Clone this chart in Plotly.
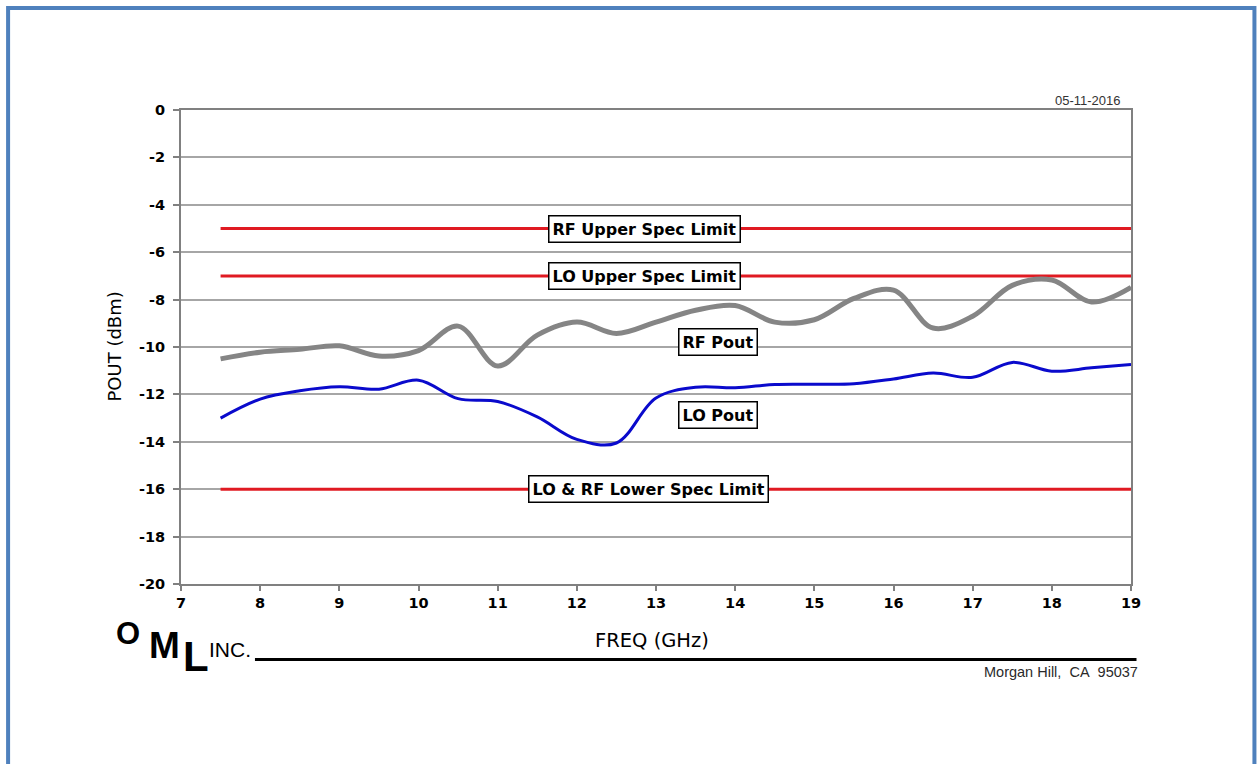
import plotly.graph_objects as go

# ---------------- data ----------------
freq_ghz = [7.5, 8.0, 8.5, 9.0, 9.5, 10.0, 10.5, 11.0, 11.5, 12.0, 12.5, 13.0,
            13.5, 14.0, 14.5, 15.0, 15.5, 16.0, 16.5, 17.0, 17.5, 18.0, 18.5, 19.0]
rf_pout = [-10.5, -10.22, -10.1, -9.95, -10.38, -10.15, -9.12, -10.8, -9.5, -8.95, -9.43, -8.95,
           -8.45, -8.25, -8.95, -8.85, -7.95, -7.6, -9.2, -8.7, -7.4, -7.17, -8.1, -7.48]
lo_pout = [-13.0, -12.2, -11.85, -11.68, -11.78, -11.4, -12.18, -12.3, -12.95, -13.9, -14.05, -12.15,
           -11.7, -11.72, -11.58, -11.57, -11.55, -11.35, -11.1, -11.28, -10.65, -11.02, -10.88, -10.74]
limit_x = [7.5, 19.0]
limit_names = ["RF Upper Spec Limit", "LO Upper Spec Limit", "LO & RF Lower Spec Limit"]
limit_values = [-5, -7, -16]
limit_label_x = [12.86, 12.86, 12.9]
series_labels = ["RF Pout", "LO Pout"]
series_label_pos = [(13.78, -9.78), (13.78, -12.86)]
x_ticks = list(range(7, 20))
y_ticks = list(range(-20, 1, 2))

# ---------------- layout geometry (pixels) ----------------
W, H = 1257, 764
L, R, T, B = 181, 1131.5, 110, 584


def pxx(x):
    return (x - L) / (R - L)


def pxy(y):
    return (B - y) / (B - T)


fig = go.Figure()

for v in limit_values:
    fig.add_trace(go.Scatter(x=limit_x, y=[v, v], mode="lines",
                             line=dict(color="#E01A22", width=3), hoverinfo="skip"))

fig.add_trace(go.Scatter(x=freq_ghz, y=rf_pout, mode="lines", name="RF Pout",
                         line=dict(color="#858585", width=5, shape="spline", smoothing=1.0)))
fig.add_trace(go.Scatter(x=freq_ghz, y=lo_pout, mode="lines", name="LO Pout",
                         line=dict(color="#0A0ACC", width=3, shape="spline", smoothing=1.0)))

BOLD = "DejaVu Sans"
box_font = dict(family=BOLD, size=16, color="black", weight="bold")
annotations = []
for name, v, lx in zip(limit_names, limit_values, limit_label_x):
    annotations.append(dict(x=lx, y=v, xref="x", yref="y", text=name,
                            xanchor="center", yanchor="middle",
                            showarrow=False, font=box_font, bgcolor="white",
                            bordercolor="black", borderwidth=1.5, borderpad=3))
for name, (lx, ly) in zip(series_labels, series_label_pos):
    annotations.append(dict(x=lx, y=ly, xref="x", yref="y", text=name,
                            xanchor="center", yanchor="middle",
                            showarrow=False, font=box_font, bgcolor="white",
                            bordercolor="black", borderwidth=1.5, borderpad=3))


def paper_text(text, cx, cy, size, family="DejaVu Sans", color="black", bold=False,
               xanchor="center", angle=0):
    f = dict(family=family, size=size, color=color)
    if bold:
        f["weight"] = "bold"
    return dict(x=pxx(cx), y=pxy(cy), xref="paper", yref="paper", text=text,
                xanchor=xanchor, yanchor="middle", textangle=angle, showarrow=False, font=f)


# axis titles
annotations.append(paper_text("FREQ (GHz)", 652, 640, 19.5))
annotations.append(paper_text("POUT (dBm)", 113.5, 347, 18, angle=-90))
# date and address
annotations.append(paper_text("05-11-2016", 1123, 100, 13, family="Liberation Sans Narrow, Arial",
                              color="#333333", xanchor="right"))
annotations.append(paper_text("Morgan Hill,\u00a0\u00a0CA\u00a0\u00a095037", 1141, 672, 14.5,
                              family="Liberation Sans, Arial", color="#2a2a2a", xanchor="right"))
# logo
logo = [("O", 127.5, 633.3, 31, True), ("M", 164, 645, 37, True), ("L", 196.5, 656.7, 42, True),
        ("INC.", 230.5, 649.2, 21, False)]
for t, cx, cy, fs, bold in logo:
    annotations.append(paper_text(t, cx, cy, fs, family="Liberation Sans, Arial", bold=bold))

shapes = [
    # logo underline
    dict(type="line", xref="paper", yref="paper", x0=pxx(255), x1=pxx(1137), y0=pxy(659.5), y1=pxy(659.5),
         line=dict(color="black", width=3)),
    # page frame
    dict(type="rect", xref="paper", yref="paper", x0=pxx(8), x1=pxx(1255), y0=pxy(8), y1=pxy(800),
         line=dict(color="#4F81BD", width=4)),
]

tick_font = dict(family=BOLD, size=14.5, color="black", weight="bold")
fig.update_layout(
    width=W, height=H,
    margin=dict(l=L, r=W - R, t=T, b=H - B),
    paper_bgcolor="white", plot_bgcolor="white",
    showlegend=False,
    annotations=annotations,
    shapes=shapes,
    xaxis=dict(range=[7, 19], tickvals=x_ticks, ticktext=[str(v) for v in x_ticks],
               showgrid=False, zeroline=False, showline=True, linecolor="#808080", linewidth=2,
               mirror=True, ticks="outside", ticklen=5, tickcolor="#808080", tickwidth=1.5,
               tickfont=tick_font),
    yaxis=dict(range=[-20, 0], tickvals=y_ticks, ticktext=[str(v) for v in y_ticks],
               showgrid=True, gridcolor="#A6A6A6", gridwidth=1.5, zeroline=False,
               showline=True, linecolor="#808080", linewidth=2, mirror=True,
               ticks="outside", ticklen=6, tickcolor="#808080", tickwidth=1.5, ticklabelstandoff=5,
               tickfont=tick_font),
)

fig.write_html("out.html", config={"displayModeBar": False},
               post_script="document.body.style.margin='0';document.body.style.overflow='hidden';")
